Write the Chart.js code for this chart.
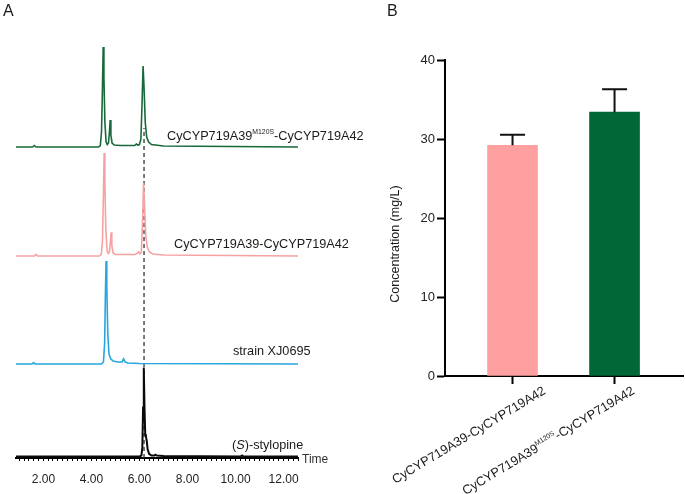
<!DOCTYPE html>
<html><head><meta charset="utf-8">
<script src="https://cdn.jsdelivr.net/npm/chart.js@4"></script>
<style>
html,body{margin:0;padding:0;background:#fff;width:685px;height:494px;overflow:hidden}
#wa{position:absolute;left:0;top:0;width:370px;height:494px}
#wb{position:absolute;left:370px;top:0;width:315px;height:494px}
canvas{display:block}
</style></head><body>
<div id="wa"><canvas id="ca" width="370" height="494"></canvas></div>
<div id="wb"><canvas id="cb" width="315" height="494"></canvas></div>
<script>
const FONT = "'Liberation Sans', Arial, sans-serif";

// ---------- Panel A: chromatograms (time in min, relative intensity in %) ----------
const traceLabels = ['CyCYP719A39^{M120S}-CyCYP719A42', 'CyCYP719A39-CyCYP719A42', 'strain XJ0695', '(*S*)-stylopine'];

const greenTime = [0.86, 1.55, 1.62, 1.69, 4.30, 4.37, 4.42, 4.46, 4.49, 4.52, 4.56, 4.61, 4.66, 4.71, 4.75, 4.78, 4.81, 4.86, 4.95, 5.20, 5.80, 5.87, 5.93, 6.00, 6.06, 6.11, 6.15, 6.19, 6.24, 6.30, 6.38, 6.50, 7.00, 12.60];
const greenIntensity = [0, 0, 1.5, 0, 0, 1.5, 15, 60, 100, 70, 25, 5, 2.5, 4, 15, 27, 12, 4, 2, 1.5, 1.5, 3, 2, 2.5, 8, 45, 81, 60, 25, 10, 5, 2.5, 1, 0];

const pinkTime = [0.86, 1.62, 1.69, 1.76, 4.34, 4.41, 4.46, 4.50, 4.53, 4.56, 4.60, 4.65, 4.70, 4.75, 4.79, 4.82, 4.85, 4.90, 5.00, 5.80, 5.90, 5.96, 6.02, 6.08, 6.13, 6.17, 6.21, 6.26, 6.33, 6.42, 6.55, 7.00, 12.60];
const pinkIntensity = [0, 0, 1.5, 0, 0, 1.5, 15, 60, 100, 70, 25, 5, 2.5, 4, 14, 23, 10, 3, 1.5, 1.5, 2.5, 4, 2, 4, 35, 71, 50, 20, 8, 4, 2, 1, 0];

const blueTime = [0.86, 1.52, 1.59, 1.66, 4.42, 4.50, 4.55, 4.58, 4.61, 4.64, 4.68, 4.73, 4.80, 4.90, 5.10, 5.28, 5.34, 5.40, 5.50, 6.00, 12.60];
const blueIntensity = [0, 0, 1.2, 0, 0, 2, 20, 65, 100, 75, 30, 10, 5, 3, 2, 2, 5, 2, 1, 0.5, 0];

const blackTime = [0.86, 6.00, 6.08, 6.12, 6.15, 6.18, 6.21, 6.24, 6.27, 6.30, 6.34, 6.40, 6.50, 6.62, 6.66, 6.72, 7.00, 10.20, 10.27, 10.34, 12.60];
const blackIntensity = [0, 0, 1, 10, 55, 100, 55, 25, 22, 18, 8, 3, 1, 1, 2, 1, 0.5, 0, 1.2, 0, 0];

const stylopineTime = 6.19;
const timeAxisTitle = 'Time';

// ---------- Panel B: concentration (mg/L) ----------
const categories = ['CyCYP719A39-CyCYP719A42', 'CyCYP719A39^{M120S}-CyCYP719A42'];
const concMean = [29.2, 33.4];
const concSD = [1.35, 2.9];
const yAxisTitleB = 'Concentration (mg/L)';

// ---------- styles / layout ----------
const traceStyle = [
  {color: '#17693a', base: 311, scale: 1.00, width: 1.6, lx: 167, ly: 140},
  {color: '#f6a2a2', base: 202, scale: 1.03, width: 1.6, lx: 174, ly: 248},
  {color: '#29a6dd', base: 94,  scale: 1.03, width: 1.6, lx: 233, ly: 355},
  {color: '#0a0a0a', base: 1.5, scale: 0.89, width: 2.0, lx: 232, ly: 449}
];
const barColors = ['#ffa0a0', '#006837'];
const catLabelShift = [29, 16];

function parseRich(s) {
  const out = [];
  const re = /\^\{([^}]*)\}|\*([^*]*)\*/g;
  let last = 0, m;
  while ((m = re.exec(s))) {
    if (m.index > last) out.push({text: s.slice(last, m.index)});
    if (m[1] !== undefined) out.push({text: m[1], sup: true});
    else out.push({text: m[2], it: true});
    last = re.lastIndex;
  }
  if (last < s.length) out.push({text: s.slice(last)});
  return out;
}
function segFont(seg, size) {
  return (seg.it ? 'italic ' : '') + (seg.sup ? size * 0.54 : size) + 'px ' + FONT;
}
function drawRich(ctx, str, x, y, size, align) {
  const segs = parseRich(str);
  let total = 0;
  const ws = segs.map(s => { ctx.font = segFont(s, size); const w = ctx.measureText(s.text).width; total += w; return w; });
  let cx = align === 'right' ? x - total : x;
  ctx.textAlign = 'left';
  ctx.textBaseline = 'alphabetic';
  segs.forEach((s, i) => {
    ctx.font = segFont(s, size);
    ctx.fillText(s.text, cx, s.sup ? y - size * 0.45 : y);
    cx += ws[i];
  });
}

// ---------- Chart A ----------
const traces = [
  {t: greenTime, v: greenIntensity},
  {t: pinkTime, v: pinkIntensity},
  {t: blueTime, v: blueIntensity},
  {t: blackTime, v: blackIntensity}
];
const dsA = traces.map((tr, i) => {
  const st = traceStyle[i];
  return {
    data: tr.t.map((t, j) => ({x: t, y: st.base + tr.v[j] * st.scale})),
    borderColor: st.color, borderWidth: st.width, pointRadius: 0, tension: 0, fill: false
  };
});
dsA.push({
  data: [{x: stylopineTime, y: 0}, {x: stylopineTime, y: 330}],
  borderColor: '#333', borderWidth: 1.3, borderDash: [4, 3], pointRadius: 0, fill: false
});

const textA = {
  id: 'textA',
  afterDraw(chart) {
    const ctx = chart.ctx;
    ctx.save();
    ctx.fillStyle = '#1a1a1a';
    ctx.font = '16px ' + FONT;
    ctx.textAlign = 'left'; ctx.textBaseline = 'alphabetic';
    ctx.fillText('A', 3, 16);
    traceLabels.forEach((lab, i) => drawRich(ctx, lab, traceStyle[i].lx, traceStyle[i].ly, 12.7, 'left'));
    ctx.fillStyle = '#333';
    ctx.font = '12px ' + FONT;
    ctx.fillText(timeAxisTitle, 302, 463);
    ctx.restore();
  }
};

new Chart(document.getElementById('ca'), {
  type: 'line',
  data: {datasets: dsA},
  options: {
    responsive: false, animation: false, events: [],
    layout: {padding: {top: 40, left: 16, right: 72, bottom: 0}},
    plugins: {legend: {display: false}, tooltip: {enabled: false}},
    scales: {
      x: {
        type: 'linear', min: 0.86, max: 12.6,
        afterFit(s) { s.height = 36; },
        afterBuildTicks(s) { const t = []; for (let k = 5; k <= 63; k++) t.push({value: k / 5}); s.ticks = t; },
        ticks: {
          autoSkip: false, maxRotation: 0, minRotation: 0, padding: 11, color: '#222',
          font: {family: FONT, size: 12},
          callback: v => (Math.abs(v / 2 - Math.round(v / 2)) < 1e-6 ? v.toFixed(2) : '')
        },
        grid: {drawOnChartArea: false, drawTicks: true, tickLength: 3, tickColor: '#000', tickWidth: 1},
        border: {display: true, color: '#000', width: 2}
      },
      y: {display: false, min: 0, max: 418}
    }
  },
  plugins: [textA]
});

// ---------- Chart B ----------
const extraB = {
  id: 'extraB',
  afterDatasetsDraw(chart) {
    const ctx = chart.ctx, xs = chart.scales.x, ys = chart.scales.y;
    ctx.save();
    ctx.strokeStyle = '#111'; ctx.lineWidth = 2;
    concMean.forEach((m, i) => {
      const x = xs.getPixelForValue(i + 1);
      const y1 = ys.getPixelForValue(m), y2 = ys.getPixelForValue(m + concSD[i]);
      ctx.beginPath();
      ctx.moveTo(x, y1); ctx.lineTo(x, y2);
      ctx.moveTo(x - 12.5, y2); ctx.lineTo(x + 12.5, y2);
      ctx.stroke();
    });
    ctx.restore();
  },
  afterDraw(chart) {
    const ctx = chart.ctx, xs = chart.scales.x;
    ctx.save();
    ctx.fillStyle = '#1a1a1a';
    ctx.font = '16px ' + FONT;
    ctx.textAlign = 'left'; ctx.textBaseline = 'alphabetic';
    ctx.fillText('B', 17, 16);
    ctx.save();
    ctx.translate(29, 244);
    ctx.rotate(-Math.PI / 2);
    ctx.font = '12.5px ' + FONT;
    ctx.textAlign = 'center';
    ctx.fillText(yAxisTitleB, 0, 0);
    ctx.restore();
    const ang = 31 * Math.PI / 180;
    categories.forEach((c, i) => {
      const x = xs.getPixelForValue(i + 1) + catLabelShift[i];
      ctx.save();
      ctx.translate(x, 385);
      ctx.rotate(-ang);
      drawRich(ctx, c, 0, 9.5, 12.8, 'right');
      ctx.restore();
    });
    ctx.restore();
  }
};

new Chart(document.getElementById('cb'), {
  type: 'bar',
  data: {datasets: [{
    data: concMean.map((m, i) => ({x: i + 1, y: m})),
    backgroundColor: barColors, borderWidth: 0, barThickness: 50
  }]},
  options: {
    responsive: false, animation: false, events: [],
    layout: {padding: {top: 60, right: 2, left: 0, bottom: 0}},
    plugins: {legend: {display: false}, tooltip: {enabled: false}},
    scales: {
      x: {
        type: 'linear', min: 0.338, max: 2.671, offset: false,
        afterFit(s) { s.height = 118; },
        afterBuildTicks(s) { s.ticks = categories.map((c, i) => ({value: i + 1})); },
        ticks: {display: false},
        grid: {offset: false, drawOnChartArea: false, drawTicks: true, tickLength: 8, tickColor: '#000', tickWidth: 2},
        border: {display: true, color: '#000', width: 2}
      },
      y: {
        min: 0, max: 40,
        afterFit(s) { s.width = 75; },
        ticks: {stepSize: 10, padding: 2, color: '#222', font: {family: FONT, size: 13}},
        grid: {drawOnChartArea: false, drawTicks: true, tickLength: 8, tickColor: '#000', tickWidth: 2},
        border: {display: true, color: '#000', width: 2}
      }
    }
  },
  plugins: [extraB]
});
</script>
</body></html>
